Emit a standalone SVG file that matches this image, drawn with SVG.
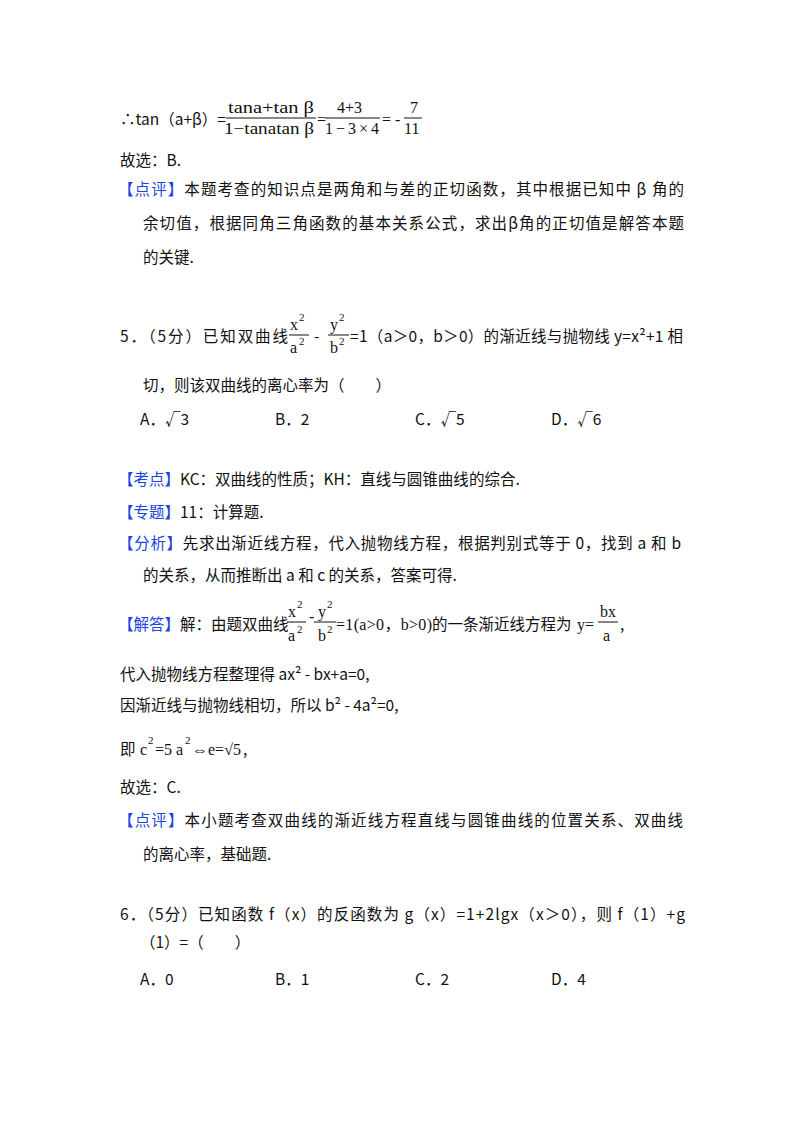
<svg xmlns="http://www.w3.org/2000/svg" width="800" height="1132" viewBox="0 0 800 1132">
<style>
text{font-family:"Noto Sans CJK SC","Noto Sans",sans-serif;font-size:15.5px;fill:#111}
.b{fill:#1a45e0}
.s{font-family:"Liberation Serif","Noto Sans CJK SC",serif;font-size:16px}
.sm{font-size:11px}
line{stroke:#111;stroke-width:1}
</style>
<rect width="800" height="1132" fill="#fff"/>
<g id="l1">
<text x="120" y="125">∴tan（a+β）=</text>
<text x="228" y="113" class="s" textLength="86" lengthAdjust="spacingAndGlyphs">tana+tan β</text>
<line x1="226" y1="118" x2="316" y2="118"/>
<text x="224" y="134" class="s" textLength="90" lengthAdjust="spacingAndGlyphs">1−tanatan β</text>
<text x="317" y="125" class="s">=</text>
<text x="337" y="113" class="s">4+3</text>
<line x1="325" y1="118" x2="380" y2="118"/>
<text x="325" y="134" class="s" textLength="54">1−3×4</text>
<text x="382" y="125" class="s">= -</text>
<text x="410" y="113" class="s">7</text>
<line x1="404" y1="118" x2="422" y2="118"/>
<text x="404" y="134" class="s">11</text>
</g>
<text x="120" y="166">故选：B.</text>
<text x="118" y="195" textLength="566" lengthAdjust="spacing"><tspan class="b">【点评】</tspan>本题考查的知识点是两角和与差的正切函数，其中根据已知中 β 角的</text>
<text x="143" y="229" textLength="541" lengthAdjust="spacing">余切值，根据同角三角函数的基本关系公式，求出β角的正切值是解答本题</text>
<text x="143" y="263">的关键.</text>

<g id="q5">
<text x="120" y="342" textLength="168" lengthAdjust="spacing">5．（5分）已知双曲线</text>
<text x="290" y="330" class="s">x</text><text x="299" y="321" class="s sm">2</text>
<line x1="289" y1="335" x2="309" y2="335"/>
<text x="290" y="353" class="s">a</text><text x="299" y="345" class="s sm">2</text>
<text x="314" y="342">-</text>
<text x="330" y="330" class="s">y</text><text x="339" y="321" class="s sm">2</text>
<line x1="328" y1="335" x2="349" y2="335"/>
<text x="330" y="353" class="s">b</text><text x="339" y="345" class="s sm">2</text>
<text x="350" y="342" textLength="333" lengthAdjust="spacing">=1（a＞0，b＞0）的渐近线与抛物线 y=x²+1 相</text>
<text x="143" y="391">切，则该双曲线的离心率为（　　）</text>
<text x="140" y="425">A．√3</text>
<text x="275" y="425">B．2</text>
<text x="415" y="425">C．√5</text>
<text x="551" y="425">D．√6</text>
</g>
<text x="118" y="485"><tspan class="b">【考点】</tspan>KC：双曲线的性质；KH：直线与圆锥曲线的综合.</text>
<text x="118" y="518"><tspan class="b">【专题】</tspan>11：计算题.</text>
<text x="118" y="549" textLength="563" lengthAdjust="spacing"><tspan class="b">【分析】</tspan>先求出渐近线方程，代入抛物线方程，根据判别式等于 0，找到 a 和 b</text>
<text x="143" y="581">的关系，从而推断出 a 和 c 的关系，答案可得.</text>
<g id="sol">
<text x="118" y="630"><tspan class="b">【解答】</tspan>解：由题双曲线</text>
<text x="288" y="617" class="s">x</text><text x="297" y="608" class="s sm">2</text>
<line x1="287" y1="622" x2="306" y2="622"/>
<text x="288" y="641" class="s">a</text><text x="297" y="633" class="s sm">2</text>
<text x="309" y="622" class="s">-</text>
<text x="318" y="617" class="s">y</text><text x="327" y="608" class="s sm">2</text>
<line x1="314" y1="622" x2="336" y2="622"/>
<text x="318" y="641" class="s">b</text><text x="327" y="633" class="s sm">2</text>
<text x="336" y="630" class="s" textLength="96">=1(a&gt;0，b&gt;0)</text>
<text x="432" y="630">的一条渐近线方程为</text>
<text x="577" y="630" class="s">y=</text>
<text x="600" y="617" class="s">bx</text>
<line x1="598" y1="622" x2="618" y2="622"/>
<text x="603" y="641" class="s">a</text>
<text x="620" y="630">,</text>
</g>
<text x="120" y="680">代入抛物线方程整理得 ax² - bx+a=0,</text>
<text x="120" y="711">因渐近线与抛物线相切，所以 b² - 4a²=0,</text>
<text x="120" y="755">即</text>
<text x="140" y="755" class="s">c</text><text x="148" y="744" class="s sm">2</text>
<text x="155" y="755" class="s">=5 a</text><text x="185" y="744" class="s sm">2</text>
<text x="192" y="755" class="s">⇔e=√5</text>
<text x="243" y="755">,</text>
<text x="120" y="793">故选：C.</text>
<text x="118" y="826" textLength="565" lengthAdjust="spacing"><tspan class="b">【点评】</tspan>本小题考查双曲线的渐近线方程直线与圆锥曲线的位置关系、双曲线</text>
<text x="143" y="860">的离心率，基础题.</text>
<text x="120" y="920" textLength="565" lengthAdjust="spacing">6．（5分）已知函数 f（x）的反函数为 g（x）=1+2lgx（x＞0），则 f（1）+g</text>
<text x="140" y="948">（1）=（　　）</text>
<text x="140" y="985">A．0</text>
<text x="275" y="985">B．1</text>
<text x="415" y="985">C．2</text>
<text x="551" y="985">D．4</text>
</svg>
